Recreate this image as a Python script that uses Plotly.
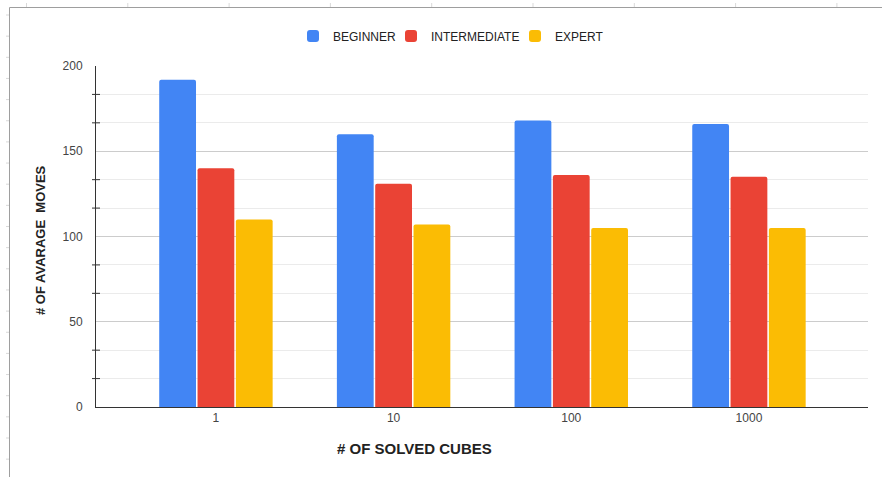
import plotly.graph_objects as go

# Average number of moves per solve, by solver level and batch size
batches = ["1", "10", "100", "1000"]
beginner = [192, 160, 168, 166]
intermediate = [140, 131, 136, 135]
expert = [110, 107, 105, 105]

series_names = ["BEGINNER", "INTERMEDIATE", "EXPERT"]
series_colors = ["#4285F4", "#EA4335", "#FBBC04"]
legend_widths = [53, 79, 60]

y_major_ticks = [0, 50, 100, 150, 200]
y_minor_step = 50 / 3

W, H = 882, 477
ML, MR, MT, MB = 96, 14, 66, 70
PW, PH = W - ML - MR, H - MT - MB

FONT = "Liberation Sans, Arial, sans-serif"


def px_x(px):
    return (px - ML) / PW


def px_y(py):
    return (H - MB - py) / PH


fig = go.Figure()
for name, vals, color, lw in zip(series_names, [beginner, intermediate, expert],
                                 series_colors, legend_widths):
    fig.add_trace(go.Bar(
        x=batches, y=vals, name=name, legendwidth=lw,
        marker=dict(color=color, line=dict(width=0)),
    ))

shapes = []
# crossing minor tick marks on the value axis
k = 1
while k * y_minor_step < y_major_ticks[-1]:
    if k % 3:
        v = k * y_minor_step
        shapes.append(dict(type="line", xref="paper", yref="y",
                           x0=-4 / PW, x1=4 / PW, y0=v, y1=v,
                           line=dict(color="#333333", width=1)))
    k += 1

# sheet frame around the chart
frame = dict(color="#9e9e9e", width=1)
shapes.append(dict(type="line", xref="paper", yref="paper",
                   x0=px_x(9.5), x1=px_x(W), y0=px_y(7.5), y1=px_y(7.5), line=frame))
shapes.append(dict(type="line", xref="paper", yref="paper",
                   x0=px_x(9.5), x1=px_x(9.5), y0=px_y(7.5), y1=px_y(H), line=frame))
# faint cell dividers of the surrounding sheet
cell = dict(color="#d9d9d9", width=1)
cx = 26.5
while cx < W:
    shapes.append(dict(type="line", xref="paper", yref="paper",
                       x0=px_x(cx), x1=px_x(cx), y0=px_y(3), y1=px_y(7), line=cell))
    cx += 101.3
cy = 15.0
while cy < H:
    shapes.append(dict(type="line", xref="paper", yref="paper",
                       x0=px_x(6), x1=px_x(9), y0=px_y(cy), y1=px_y(cy), line=cell))
    cy += 21.15

annotations = [
    dict(text="<b># OF SOLVED CUBES</b>", xref="paper", yref="paper",
         x=px_x(414), y=px_y(449), xanchor="center", yanchor="middle",
         showarrow=False, font=dict(family=FONT, size=15, color="#222222")),
    dict(text="<b># OF AVARAGE  MOVES</b>", xref="paper", yref="paper",
         x=px_x(40), y=px_y(240), xanchor="center", yanchor="middle",
         textangle=-90, showarrow=False,
         font=dict(family=FONT, size=13, color="#222222")),
]

fig.update_layout(
    width=W, height=H,
    margin=dict(l=ML, r=MR, t=MT, b=MB, pad=0),
    paper_bgcolor="white", plot_bgcolor="white",
    font=dict(family=FONT, size=12, color="#444444"),
    barmode="group", bargap=0.353, bargroupgap=0.04, barcornerradius=2,
    showlegend=True,
    legend=dict(orientation="h", x=px_x(293), y=px_y(36),
                xanchor="left", yanchor="middle",
                entrywidthmode="pixels",
                font=dict(family=FONT, size=12, color="#222222"),
                bgcolor="rgba(0,0,0,0)", itemclick=False),
    xaxis=dict(type="category", range=[-0.675, 3.67],
               showline=True, linecolor="#333333", linewidth=1,
               showgrid=False, ticks="", zeroline=False,
               tickfont=dict(family=FONT, size=12, color="#444444")),
    yaxis=dict(range=[0, 200], tickvals=y_major_ticks,
               showline=True, linecolor="#333333", linewidth=1,
               showgrid=True, gridcolor="#cccccc", gridwidth=1,
               minor=dict(dtick=y_minor_step, tick0=0, showgrid=True,
                          gridcolor="#ebebeb", gridwidth=1, ticks=""),
               ticks="", ticklabelstandoff=10, zeroline=False,
               tickfont=dict(family=FONT, size=12, color="#444444")),
    shapes=shapes,
    annotations=annotations,
)

fig.write_html("out.html")
